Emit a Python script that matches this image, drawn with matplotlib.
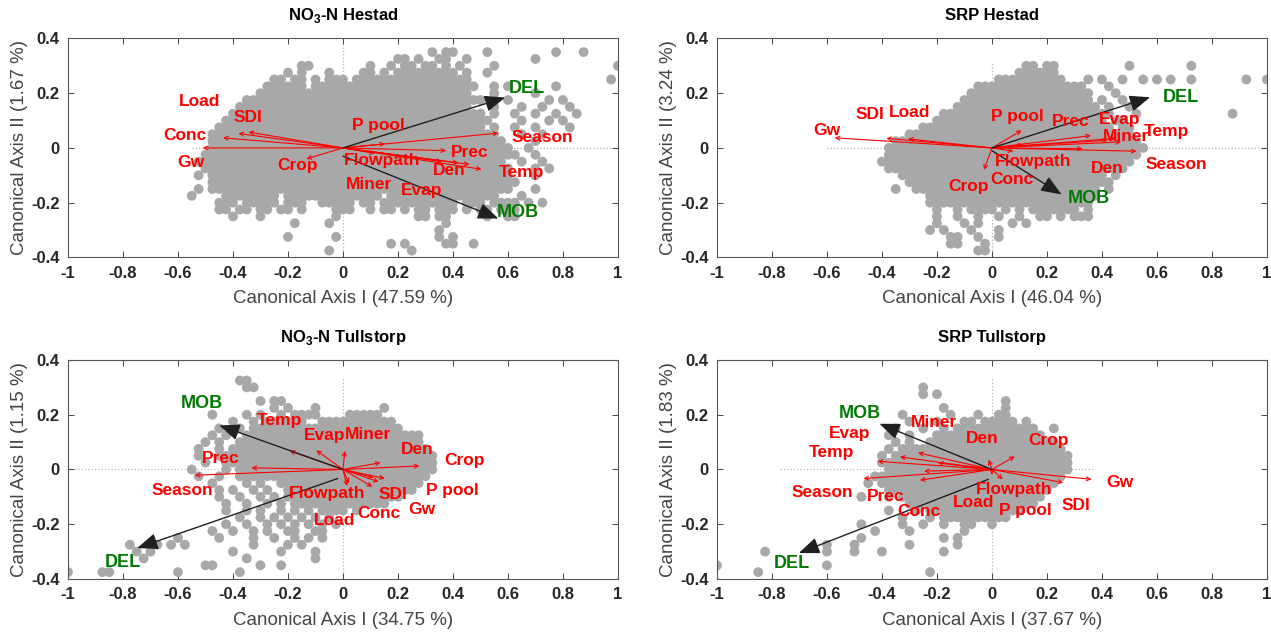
import matplotlib
matplotlib.use('Agg')
import matplotlib.pyplot as plt

plt.rcParams['font.family'] = ['Liberation Sans', 'DejaVu Sans']
plt.rcParams['mathtext.fontset'] = 'custom'
plt.rcParams['mathtext.rm'] = 'Liberation Sans'
plt.rcParams['mathtext.bf'] = 'Liberation Sans:bold'

# site scores on a 0.025 grid:
# one string per row from y=0.375 down to y=-0.375, columns x=-1..1 ('#' = dot)
# (spaces only split the columns in blocks of ten)
no3_hestad_cloud = [
    ".......... .......... .......... .......... .......... .......... .......... .......... .",
    ".......... .......... .......... .......... .......... ...#.##... .#........ .#...#.... .",
    ".......... .......... .......... .......... ........## .#..##..#. ........#. .......... .",
    ".......... .......... .......... ....##.... ....#..#.# #.##.#.#.. ..#....... .......... #",
    ".......... .......... .......... ..#.#...#. ...##.#.## #######.#. .#........ .......... .",
    ".......... .......... .......... ##.##.#.## #.######## #########. .......... .........# .",
    ".......... .......... .........# #####.#### ########## ########## ..#.#..... .#........ .",
    ".......... .......... ........## ########## ########## #########. ..#.....#. .......... .",
    ".......... .......... ......#### ########## ########## ########## #...#..... #.#....... .",
    ".......... .......... .....##### ########## ########## #########. ..#...#..# ...#...... .",
    ".......... .......... ....###### ########## ########## ########## #.#..#..#. .#..#..... .",
    ".......... .......... ...####### ########## ########## ########## ##....#... #.#....... .",
    ".......... .......... ..######## ########## ########## ########## #.#..#..#. ...#...... .",
    ".......... .......... .######### ########## ########## ########## ###...#..# .......... .",
    ".......... .......... .######### ########## ########## ########## ####....#. .......... .",
    ".......... .......... .######### ########## ########## ########## #####..#.. .......... .",
    ".......... .......... ########## ########## ########## ########## ######..#. .......... .",
    ".......... .........# ########## ########## ########## ########## ####..#..# .......... .",
    ".......... .......... ########## ########## ########## ########## #####...#. #......... .",
    ".......... .........# .######### ########## ########## ########## #####...#. .......... .",
    ".......... .......... .######### ########## ########## ########## ######.... .......... .",
    ".......... .........# .######### ########## ########## ########## #####...#. .......... .",
    ".......... ........#. ...####### #.######## ######.### ########## ###...#... .......... .",
    ".......... .......... ..###.#### #.###..### ##.##.#### #######.## #.####.#.# .......... .",
    ".......... .......... ..##.##.## .##.#....# ##..#.##.# .##.###.#. ##.###.... .......... .",
    ".......... .......... ....#...#. .........# .......... .##.##.... .#..##.... .......... .",
    ".......... .......... .......... ...#....#. .......... .....#.... .......... .......... .",
    ".......... .......... .......... .......... .......... ....#..... .......... .......... .",
    ".......... .......... .......... ..#......# .......... ....#.#... .......... .......... .",
    ".......... .......... .......... .......... .......#.# .....##..# .......... .......... .",
    ".......... .......... .......... ........#. .......... #......... .......... .......... .",
]

srp_hestad_cloud = [
    ".......... .......... .......... .......... .......... .......... .......... .......... .",
    ".......... .......... .......... .......... .......... .......... .......... .......... .",
    ".......... .......... .......... .......... .......... .......... .......... .......... .",
    ".......... .......... .......... .......... .....##.## .......... #........# .......... .",
    ".......... .......... .......... .......... ....###### .......... .......... .......... .",
    ".......... .......... .......... .......... .######### #...#.#..# ..#.#.#..# .......#.. #",
    ".......... .......... .......... ........## ########## ####...#.. .......... .......... .",
    ".......... .......... .......... .......### ########## #####...#. .......... .......... .",
    ".......... .......... .......... ......#### ########## #####.#..# .......... .......... .",
    ".......... .......... .......... .....##### ########## ######.#.. #......... .......... .",
    ".......... .......... .......... ...####### ########## ########.. .#........ .....#.... .",
    ".......... .......... .......... ..######## ########## #######.## .......... .......... .",
    ".......... .......... .......... ########## ########## ########.# #......... .......... .",
    ".......... .......... ........## ########## ########## ########## #......... .......... .",
    ".......... .......... ......#### ########## ########## ########## ##........ .......... .",
    ".......... .......... .....##### ########## ########## ########## ###....... .......... .",
    ".......... .......... .....##### ########## ########## ########## ##........ .......... .",
    ".......... .......... ....###### ########## ########## ########## #......... .......... .",
    ".......... .......... .....##### ########## ########## ########## .......... .......... .",
    ".......... .......... .......### ########## ########## #######.#. .......... .......... .",
    ".......... .......... ........## ########## ########## ########.. .......... .......... .",
    ".......... .......... ......#..# ########## ########## ######.#.. .......... .......... .",
    ".......... .......... .......... .######### ########## ######.... .......... .......... .",
    ".......... .......... .......... .######### ########## #####..... .......... .......... .",
    ".......... .......... .......... ..#..#.### #.#.#.#### ###.#..... .......... .......... .",
    ".......... .......... .......... ..#..#..#. .#..#..##. #.###..... .......... .......... .",
    ".......... .......... .......... ..#...#.#. ...#.#.... .......... .......... .......... .",
    ".......... .......... .......... .#.#...#.. .#........ .......... .......... .......... .",
    ".......... .......... .......... ....##..#. .#........ .......... .......... .......... .",
    ".......... .......... .......... ....##...# .......... .......... .......... .......... .",
    ".......... .......... .......... ........## .......... .......... .......... .......... .",
]

no3_tullstorp_cloud = [
    ".......... .......... .......... .......... .......... .......... .......... .......... .",
    ".......... .......... .......... .......... .......... .......... .......... .......... .",
    ".......... .......... .....##... .......... .......... .......... .......... .......... .",
    ".......... .......... ......##.. .......... .......... .......... .......... .......... .",
    ".......... .......... .......... .......... .......... .......... .......... .......... .",
    ".......... .......... ........#. ##........ .......... .......... .......... .......... .",
    ".......... .......... .......... #.#...#... ......#... .......... .......... .......... .",
    ".......... .......... .#....#.#. .#.####... .#####.... .......... .......... .......... .",
    ".......... .......... ....#..#.# #####..### ########.. .......... .......... .......... .",
    ".......... .......... ..#..#.### ########## #########. .......... .......... .......... .",
    ".......... .......... .#.#..#### ########## ########## ##........ .......... .......... .",
    ".......... .......... #.#..##### ########## ########## ##........ .......... .......... .",
    ".......... .........# ..#.###### ########## ########## ###....... .......... .......... .",
    ".......... .........# ..######## ########## ########## ####...... .......... .......... .",
    ".......... .......... #..####### ########## ########## ####...... .......... .......... .",
    ".......... ........#. ...#.##### ########## ########## ####...... .......... .......... .",
    ".......... .........# ..#..##### ########## ########## ###....... .......... .......... .",
    ".......... .......... .#....#.#. .######### ########## ##........ .......... .......... .",
    ".......... .......... ..#.#..#.# ..######## ########## #......... .......... .......... .",
    ".......... .......... ..#..#..#. #.######## #########. .......... .......... .......... .",
    ".......... .......... ...#..#..# .#.####### #######... .......... .......... .......... .",
    ".......... .......... ...#..#.#. .#.#.#.### #.#....... .......... .......... .......... .",
    ".......... .......... .....#..#. #.#.#.#.#. .......... .......... .......... .......... .",
    ".......... .......... ...#..#..# .#.#.#.#.# .......... .......... .......... .......... .",
    ".......... .......... .#..#..#.# ..##..##.. .......... .......... .......... .......... .",
    ".......... ......#... ..#....#.. #..#.#.#.. .......... .......... .......... .......... .",
    ".........# ...#.#.#.. .......#.. ..#.#..... .......... .......... .......... .......... .",
    ".......... #.#....... ....#..... .#....#... .......... .......... .......... .......... .",
    ".......... .#........ ......#... ......#... .......... .......... .......... .......... .",
    ".......... .......... ##......#. .#........ .......... .......... .......... .......... .",
    "#....##... ......#... .....#.... .......... .......... .......... .......... .......... .",
]

srp_tullstorp_cloud = [
    ".......... .......... .......... .......... .......... .......... .......... .......... .",
    ".......... .......... .......... .......... .......... .......... .......... .......... .",
    ".......... .......... .......... .......... .......... .......... .......... .......... .",
    ".......... .......... .......... #......... .......... .......... .......... .......... .",
    ".......... .......... .......... #.#....... .......... .......... .......... .......... .",
    ".......... .......... .......... .......... ..#....... .......... .......... .......... .",
    ".......... .......... .......... ...#...... ..#....... .......... .......... .......... .",
    ".......... .......... .......#.. ....#...#. .##....... .......... .......... .......... .",
    ".......... .......... ........#. ..#...##.# ####.#.... .......... .......... .......... .",
    ".......... .......... ......#... #..#.##### #######..# .......... .......... .......... .",
    ".......... .......... .....#..#. ..######## ########.. .......... .......... .......... .",
    ".......... .......... ......#.#. .######### ########## .......... .......... .......... .",
    ".......... .......... .....#.### ########## ########## #......... .......... .......... .",
    ".......... .......... ....#.#### ########## ########## ##........ .......... .......... .",
    ".......... .......... ....###### ########## ########## ##........ .......... .......... .",
    ".......... .......... .....##### ########## ########## ##........ .......... .......... .",
    ".......... .......... ...####### ########## ########## #......... .......... .......... .",
    ".......... .......... ..#.###### ########## ########## .......... .......... .......... .",
    ".......... .......... .....##### ########## #########. .......... .......... .......... .",
    ".......... .......... .#...#.### ########## ########.. .......... .......... .......... .",
    ".......... .......... ........## ########## #######... .......... .......... .......... .",
    ".......... .......... .....#...# .######### #####..... .......... .......... .......... .",
    ".......... .......... .......#.. .#.####### ###....... .......... .......... .......... .",
    ".......... .......... .#.....#.. #..#..##.. #......... .......... .......... .......... .",
    ".......... .......... ...#....#. ......#... .......... .......... .......... .......... .",
    ".......... .......... .#........ ...#.#.... .......... .......... .......... .......... .",
    ".......... ......#... #.......#. .....#.... .......... .......... .......... .......... .",
    ".......#.. ......#... #...#..... ...#...... .......... .......... .......... .......... .",
    ".......... .......... .......... .......... .......... .......... .......... .......... .",
    "#......... ......#... .......... .......... .......... .......... .......... .......... .",
    "......#... .......... .......... .#........ .......... .......... .......... .......... .",
]

# explanatory variables (red arrows): tip of each arrow
no3_hestad_vars = ['Gw', 'Conc', 'Load', 'SDI', 'Crop', 'P pool', 'Season', 'Prec',
                   'Flowpath', 'Miner', 'Den', 'Evap', 'Temp']
no3_hestad_x = [-0.51, -0.436, -0.38, -0.343, -0.133, 0.153, 0.565, 0.375, 0.116, 0.36, 0.46, 0.42, 0.504]
no3_hestad_y = [0.0, 0.037, 0.053, 0.058, -0.04, 0.015, 0.054, -0.01, -0.02, -0.05, -0.06, -0.055, -0.078]

srp_hestad_vars = ['Gw', 'SDI', 'Load', 'Crop', 'P pool', 'Flowpath', 'Conc', 'Prec',
                   'Evap', 'Miner', 'Temp', 'Den', 'Season']
srp_hestad_x = [-0.572, -0.384, -0.305, -0.029, 0.108, 0.078, 0.114, 0.36, 0.45, 0.42, 0.47, 0.33, 0.526]
srp_hestad_y = [0.037, 0.035, 0.033, -0.08, 0.064, -0.012, 0.012, 0.045, 0.035, 0.028, 0.022, -0.003, -0.012]

no3_tullstorp_vars = ['Season', 'Prec', 'Temp', 'Evap', 'Miner', 'Flowpath', 'Load', 'Den',
                      'Crop', 'P pool', 'SDI', 'Conc', 'Gw']
no3_tullstorp_x = [-0.539, -0.333, -0.194, -0.097, 0.007, 0.015, 0.022, 0.137, 0.278, 0.112, 0.152, 0.107, 0.13]
no3_tullstorp_y = [-0.021, 0.006, 0.068, 0.07, 0.068, -0.06, -0.05, 0.025, 0.013, -0.03, -0.033, -0.063, -0.045]

srp_tullstorp_vars = ['Temp', 'Season', 'Evap', 'Miner', 'Prec', 'Conc', 'Load', 'Crop',
                      'Den', 'Flowpath', 'SDI', 'Gw', 'P pool']
srp_tullstorp_x = [-0.416, -0.467, -0.335, -0.269, -0.262, -0.247, -0.196, 0.083, -0.012, 0.039, 0.259, 0.362, 0.0]
srp_tullstorp_y = [0.03, -0.033, 0.046, 0.061, -0.039, -0.006, 0.024, 0.048, 0.036, -0.036, -0.048, -0.036, -0.02]

# response variables (black arrows): start and tip
resp_names = ['DEL', 'MOB']
no3_hestad_resp = [(0.0, 0.0, 0.59, 0.184), (0.0, -0.03, 0.565, -0.258)]
srp_hestad_resp = [(0.0, 0.0, 0.575, 0.185), (0.0, -0.01, 0.253, -0.17)]
no3_tullstorp_resp = [(-0.019, -0.033, -0.748, -0.287), (0.0, 0.0, -0.45, 0.161)]
srp_tullstorp_resp = [(-0.013, -0.036, -0.702, -0.305), (0.0, 0.0, -0.409, 0.167)]

# explained variance of the two canonical axes (%)
axis1_pct = ['47.59', '46.04', '34.75', '37.67']
axis2_pct = ['1.67', '3.24', '1.15', '1.83']
titles = [r'NO$_\mathbf{3}$-N Hestad', 'SRP Hestad', r'NO$_\mathbf{3}$-N Tullstorp', 'SRP Tullstorp']

# where the labels were placed in the figure
no3_hestad_lab = {'Load': (-0.52, 0.168), 'SDI': (-0.346, 0.111), 'Conc': (-0.574, 0.047),
                  'Gw': (-0.552, -0.053), 'Crop': (-0.165, -0.065), 'P pool': (0.129, 0.081),
                  'Flowpath': (0.144, -0.047), 'Miner': (0.095, -0.132), 'Evap': (0.285, -0.156),
                  'Prec': (0.46, -0.016), 'Den': (0.387, -0.083), 'Temp': (0.65, -0.09),
                  'Season': (0.724, 0.038), 'DEL': (0.669, 0.217), 'MOB': (0.635, -0.236)}
srp_hestad_lab = {'Gw': (-0.6, 0.062), 'SDI': (-0.445, 0.123), 'Load': (-0.3, 0.13),
                  'Crop': (-0.084, -0.142), 'P pool': (0.093, 0.116), 'Flowpath': (0.149, -0.051),
                  'Conc': (0.073, -0.116), 'Prec': (0.285, 0.098), 'Evap': (0.465, 0.104),
                  'Temp': (0.633, 0.061), 'Miner': (0.487, 0.04), 'Den': (0.42, -0.077),
                  'Season': (0.67, -0.059), 'DEL': (0.685, 0.185), 'MOB': (0.354, -0.185)}
no3_tullstorp_lab = {'SDI': (0.181, -0.093), 'Gw': (0.285, -0.148), 'P pool': (0.397, -0.075),
                     'Crop': (0.442, 0.032), 'Den': (0.271, 0.073), 'Miner': (0.092, 0.128),
                     'Evap': (-0.068, 0.125), 'Temp': (-0.23, 0.179), 'Prec': (-0.443, 0.04),
                     'Season': (-0.584, -0.078), 'Flowpath': (-0.057, -0.087), 'Load': (-0.031, -0.188),
                     'Conc': (0.129, -0.162), 'MOB': (-0.514, 0.242), 'DEL': (-0.8, -0.338)}
srp_tullstorp_lab = {'Miner': (-0.21, 0.173), 'Evap': (-0.519, 0.133), 'Temp': (-0.585, 0.063),
                     'Den': (-0.034, 0.112), 'Crop': (0.205, 0.105), 'Gw': (0.464, -0.048),
                     'Season': (-0.617, -0.085), 'Prec': (-0.387, -0.097), 'Flowpath': (0.08, -0.073),
                     'Load': (-0.067, -0.119), 'Conc': (-0.266, -0.154), 'P pool': (0.12, -0.149),
                     'SDI': (0.307, -0.133), 'MOB': (-0.479, 0.206), 'DEL': (-0.728, -0.345)}

# extent of the dotted zero lines: (x from, x to, y from, y to)
zero_lines = [(-0.55, 1.0, -0.4, 0.38), (-0.6, 1.0, -0.4, 0.31),
              (-1.0, 0.3, -0.4, 0.33), (-0.77, 0.375, -0.4, 0.33)]


def grid_points(rows):
    xs, ys = [], []
    for r, row in enumerate(rows):
        for c, ch in enumerate(row.replace(' ', '')):
            if ch == '#':
                xs.append(-1 + 0.025 * c)
                ys.append(0.375 - 0.025 * r)
    return xs, ys


panels = [
    (no3_hestad_cloud, no3_hestad_vars, no3_hestad_x, no3_hestad_y, no3_hestad_resp, no3_hestad_lab),
    (srp_hestad_cloud, srp_hestad_vars, srp_hestad_x, srp_hestad_y, srp_hestad_resp, srp_hestad_lab),
    (no3_tullstorp_cloud, no3_tullstorp_vars, no3_tullstorp_x, no3_tullstorp_y, no3_tullstorp_resp, no3_tullstorp_lab),
    (srp_tullstorp_cloud, srp_tullstorp_vars, srp_tullstorp_x, srp_tullstorp_y, srp_tullstorp_resp, srp_tullstorp_lab),
]

ax_rects = [[0.0535, 0.5927, 0.4327, 0.3465], [0.5641, 0.5927, 0.4327, 0.3465],
            [0.0535, 0.0839, 0.4327, 0.3465], [0.5641, 0.0839, 0.4327, 0.3465]]

xticks = [-1, -0.8, -0.6, -0.4, -0.2, 0, 0.2, 0.4, 0.6, 0.8, 1]
xtick_labels = ['-1', '-0.8', '-0.6', '-0.4', '-0.2', '0', '0.2', '0.4', '0.6', '0.8', '1']
yticks = [-0.4, -0.2, 0, 0.2, 0.4]
ytick_labels = ['-0.4', '-0.2', '0', '0.2', '0.4']

fig = plt.figure(figsize=(12.71, 6.32), dpi=100)

for i, (cloud, names, vx, vy, resp, lab) in enumerate(panels):
    ax = fig.add_axes(ax_rects[i])
    ax.set_xlim(-1, 1)
    ax.set_ylim(-0.4, 0.4)

    # dotted zero lines
    x0, x1, y0, y1 = zero_lines[i]
    ax.plot([x0, x1], [0, 0], ':', color='#b5b5b5', lw=0.9, zorder=1)
    ax.plot([0, 0], [y0, y1], ':', color='#b5b5b5', lw=0.9, zorder=1)

    # sample scores
    px, py = grid_points(cloud)
    ax.scatter(px, py, s=50, color='#a8a8a8', edgecolors='none', zorder=2)

    # explanatory variables
    for n, ex, ey in zip(names, vx, vy):
        ax.annotate('', xy=(ex, ey), xytext=(0, 0),
                    arrowprops=dict(arrowstyle='->', color='red', lw=0.8,
                                    shrinkA=0, shrinkB=0, mutation_scale=7),
                    zorder=3)
        tx, ty = lab[n]
        ax.text(tx, ty, n, color='red', fontsize=12.5, fontweight='bold',
                ha='center', va='center', zorder=5)

    # response variables
    for n, (sx, sy, ex, ey) in zip(resp_names, resp):
        ax.annotate('', xy=(ex, ey), xytext=(sx, sy),
                    arrowprops=dict(arrowstyle='-|>,head_length=0.7,head_width=0.28',
                                    color='#202020', lw=1.0, shrinkA=0, shrinkB=0,
                                    mutation_scale=18),
                    zorder=4)
        tx, ty = lab[n]
        ax.text(tx, ty, n, color='#007a00', fontsize=13, fontweight='bold',
                ha='center', va='center', zorder=5)

    ax.set_xticks(xticks)
    ax.set_xticklabels(xtick_labels, fontweight='bold')
    ax.set_yticks(yticks)
    ax.set_yticklabels(ytick_labels, fontweight='bold')
    ax.tick_params(direction='in', length=4, width=0.6, top=True, right=True,
                   labelsize=12, colors='#262626', pad=6)
    for sp in ax.spines.values():
        sp.set_color('#555555')
        sp.set_linewidth(0.8)

    ax.set_xlabel('Canonical Axis I (' + axis1_pct[i] + ' %)', fontsize=13.5,
                  color='#444444', labelpad=7)
    ax.set_ylabel('Canonical Axis II (' + axis2_pct[i] + ' %)', fontsize=13.5,
                  color='#444444', labelpad=2)
    ax.set_title(titles[i], fontsize=12, fontweight='bold', pad=13)

fig.savefig('out.png', dpi=100)
